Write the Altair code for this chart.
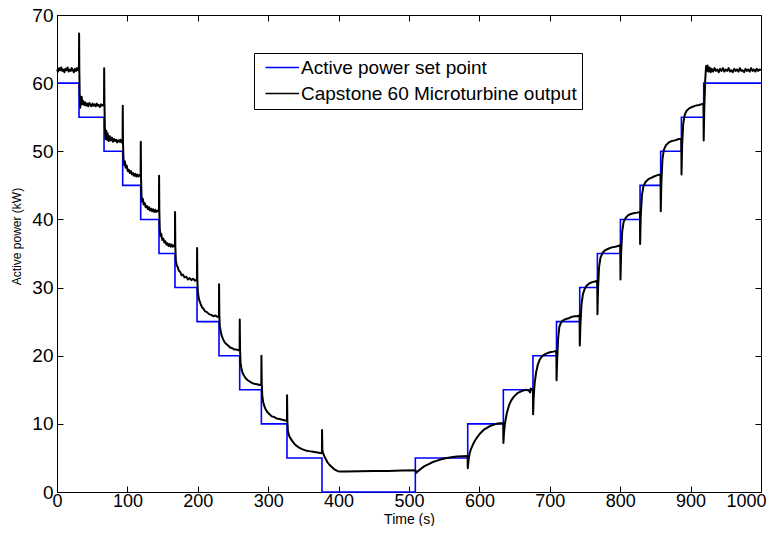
import altair as alt
import pandas as pd

SP_NAME = "Active power set point"
MT_NAME = "Capstone 60 Microturbine output"

# Set point (step changes)
sp_time = [0, 31.3, 66.8, 93.3, 118.9, 144.9, 167.6, 198.9, 230.1, 259.5, 290.3, 326.7,
           376.4, 509.0, 583.4, 634.0, 676.1, 709.5, 742.5, 767.6, 800.3, 828.2, 857.5,
           886.9, 918.6, 1000]
sp_power = [60, 55, 50, 45, 40, 35, 30, 25, 20, 15, 10, 5,
            0, 5, 10, 15, 20, 25, 30, 35, 40, 45, 50,
            55, 60, 60]

mt_time = (
    [0, 1.5, 3, 4.5, 6, 7.5, 9, 10.5, 12, 13.5, 15, 16.5, 18, 19.5, 21, 22.5, 24, 25.5, 27, 28.5, 30, 31.0]
    + [31.2, 31.4, 31.7, 32.2, 33, 34, 35, 36, 37, 38.5, 40, 41.5, 43, 44.5, 46, 47.5, 49, 50.5, 52, 53.5, 55, 56.5, 58, 59.5, 61, 62.5, 64, 65.5, 66.8]
    + [67.0, 67.4, 68, 69, 70, 71, 72, 73.5, 75, 76.5, 78, 79.5, 81, 82.5, 84, 85.5, 87, 88.5, 90, 91.5, 93.2]
    + [93.4, 93.8, 94.5, 95.5, 96.5, 97.5, 99, 100.5, 102, 103.5, 105, 106.5, 108, 109.5, 111, 112.5, 114, 115.5, 117, 118.8]
    + [119.0, 119.4, 120, 121, 122, 123, 124.5, 126, 127.5, 129, 130.5, 132, 133.5, 135, 136.5, 138, 139.5, 141, 142.5, 144.8]
    + [145.0, 145.4, 146, 147, 148, 149.5, 151, 152.5, 154, 155.5, 157, 158.5, 160, 161.5, 163, 164.5, 166, 167.5]
    + [167.7, 168.1, 168.8, 170, 171.5, 173, 175, 177, 179, 181, 183.5, 186, 188.5, 191, 193.5, 196, 198.8]
    + [199.0, 199.4, 200, 201, 202.5, 204, 206, 208, 210.5, 213, 216, 219, 222, 225, 228, 230.0]
    + [230.2, 230.6, 231.3, 232.5, 234, 236, 238, 240.5, 243, 246, 249, 252, 255, 258, 259.4]
    + [259.6, 260, 260.7, 261.8, 263.5, 265.5, 268, 271, 274, 277, 280, 284, 288, 290.2]
    + [290.4, 290.8, 291.5, 292.8, 294.5, 296.5, 299, 302, 305, 308.5, 312, 316, 320, 324, 326.6]
    + [326.8, 327.2, 328, 329.5, 331.5, 334, 337, 340, 344, 348, 353, 358, 364, 370, 376.3]
    + [376.5, 376.9, 377.8, 379.5, 381.5, 384, 387, 390, 393, 396, 399, 402, 410, 430, 450, 470, 490, 509]
    + [510.5, 513, 517, 522, 528, 534, 540, 546, 552, 560, 568, 576, 583.2]
    + [583.5, 584.5, 586, 588, 591, 594, 598, 602, 607, 612, 618, 624, 630, 633.8]
    + [634.1, 635, 636.5, 639, 642, 645, 649, 654, 660, 666, 670, 672, 673, 675, 676.0]
    + [676.3, 677.2, 678.5, 680.5, 683, 686, 690, 695, 700, 705, 709.3]
    + [709.6, 710.5, 711.8, 713.5, 716, 719, 723, 727, 731, 735, 739, 742.3]
    + [742.6, 743.5, 745, 747, 749.5, 752.5, 756, 760, 764, 767.4]
    + [767.7, 768.6, 770, 772, 775, 779, 783, 788, 793, 797, 800.1]
    + [800.4, 801.3, 802.8, 804.8, 807.5, 811, 815, 819, 824, 828.0]
    + [828.3, 829.2, 830.8, 833, 836, 840, 844, 848, 853, 857.3]
    + [857.6, 858.5, 860, 862, 865, 869, 873, 878, 883, 886.8]
    + [887.1, 888, 889.5, 891.5, 894, 898, 902, 907, 912, 918.3]
    + [918.6, 919.5, 920.8, 922, 923, 924, 925.5, 927, 928.5, 930, 932, 934, 936, 938, 940, 942, 944, 946, 948, 950,
       952, 954, 956, 958, 960, 962, 964, 966, 968, 970, 972, 974, 976, 978, 980, 982, 984, 986, 988, 990, 992, 994,
       996, 998, 1000]
)
mt_power = (
    [62.0, 61.7, 62.2, 61.9, 62.3, 61.8, 62.0, 61.6, 62.1, 61.9, 62.3, 61.7, 62.0, 61.8, 62.2, 61.9, 61.6, 62.1, 61.8, 62.2, 61.9, 62.0]
    + [63.0, 67.3, 62.0, 58.5, 56.4, 57.2, 58.0, 56.9, 57.4, 56.8, 57.2, 56.7, 57.0, 56.6, 57.1, 56.8, 56.6, 57.0, 56.7, 56.9, 56.6, 57.0, 56.7, 56.8, 56.5, 56.9, 56.7, 56.8, 56.9]
    + [62.2, 57.0, 53.5, 51.8, 53.0, 51.7, 52.6, 51.5, 52.2, 51.6, 52.0, 51.4, 51.8, 51.5, 51.7, 51.3, 51.6, 51.4, 51.7, 51.3, 51.5]
    + [56.7, 51.0, 48.8, 48.0, 48.5, 47.6, 47.9, 47.1, 47.3, 46.8, 47.1, 46.6, 46.8, 46.4, 46.7, 46.3, 46.6, 46.3, 46.5, 46.3]
    + [51.4, 46.0, 43.5, 42.6, 43.0, 42.2, 42.4, 41.8, 42.0, 41.5, 41.8, 41.3, 41.6, 41.2, 41.5, 41.1, 41.4, 41.1, 41.3, 41.2]
    + [46.4, 41.0, 38.5, 37.6, 37.9, 37.0, 37.2, 36.6, 36.8, 36.3, 36.5, 36.1, 36.4, 36.0, 36.3, 36.0, 36.2, 36.0]
    + [41.1, 36.0, 34.0, 33.3, 33.0, 32.5, 32.3, 31.8, 31.9, 31.5, 31.6, 31.2, 31.4, 31.1, 31.3, 31.0, 31.2]
    + [35.8, 31.0, 29.5, 28.6, 28.0, 27.6, 27.1, 26.9, 26.5, 26.4, 26.1, 26.0, 25.8, 25.9, 25.7, 25.8]
    + [30.5, 26.0, 24.3, 23.6, 22.9, 22.4, 22.0, 21.7, 21.5, 21.2, 21.1, 20.9, 20.9, 20.8, 20.8]
    + [25.3, 21.0, 19.0, 18.2, 17.5, 17.1, 16.7, 16.4, 16.2, 16.0, 15.9, 15.8, 15.7, 15.8]
    + [20.0, 16.0, 14.2, 13.2, 12.6, 12.1, 11.7, 11.4, 11.1, 11.0, 10.8, 10.7, 10.6, 10.5, 10.5]
    + [14.2, 10.5, 9.0, 8.3, 7.9, 7.5, 7.1, 6.8, 6.5, 6.3, 6.1, 6.0, 5.9, 5.8, 5.7]
    + [9.1, 6.2, 5.8, 5.3, 4.9, 4.4, 4.0, 3.7, 3.4, 3.2, 3.05, 3.0, 3.0, 3.05, 3.1, 3.1, 3.15, 3.2]
    + [2.8, 3.1, 3.4, 3.8, 4.1, 4.4, 4.6, 4.8, 4.95, 5.1, 5.2, 5.25, 5.3]
    + [3.5, 4.6, 5.6, 6.3, 7.0, 7.6, 8.2, 8.7, 9.2, 9.5, 9.8, 10.0, 10.1, 10.1]
    + [7.2, 8.8, 10.2, 11.6, 12.7, 13.4, 14.0, 14.5, 14.8, 15.0, 14.9, 14.6, 15.2, 15.0, 15.1]
    + [11.4, 14.0, 16.0, 17.5, 18.7, 19.5, 20.0, 20.3, 20.5, 20.6, 20.7]
    + [16.4, 19.5, 22.5, 24.2, 24.9, 25.2, 25.4, 25.5, 25.7, 25.8, 25.8, 25.9]
    + [21.5, 24.5, 27.5, 29.0, 29.8, 30.3, 30.6, 30.8, 30.9, 31.0]
    + [26.1, 30.0, 33.0, 34.4, 35.1, 35.5, 35.7, 35.9, 36.0, 36.1, 36.2]
    + [31.2, 35.0, 38.2, 39.6, 40.2, 40.6, 40.8, 40.9, 41.0, 41.1]
    + [36.4, 40.5, 43.5, 44.9, 45.5, 45.9, 46.1, 46.3, 46.5, 46.6]
    + [41.2, 45.5, 48.8, 50.2, 50.9, 51.3, 51.5, 51.6, 51.8, 51.8]
    + [46.6, 51.0, 54.0, 55.3, 55.9, 56.3, 56.5, 56.7, 56.8, 57.0]
    + [51.6, 56.5, 60.5, 62.5, 61.8, 62.6, 61.7, 62.3, 61.6, 62.1, 61.7, 62.2, 61.8, 62.0, 61.6, 62.1, 61.8, 62.2, 61.7, 62.0,
       61.8, 62.2, 61.7, 61.9, 61.6, 62.1, 61.8, 62.0, 61.7, 62.2, 61.8, 61.9, 61.6, 62.1, 61.8, 62.0, 61.7, 62.2,
       61.8, 62.0, 61.7, 62.1, 61.8, 62.0, 61.9]
)

x_ticks = [0, 100, 200, 300, 400, 500, 600, 700, 800, 900, 1000]
y_ticks = [0, 10, 20, 30, 40, 50, 60, 70]

W, H = 704, 477
FONT = "Liberation Sans"

sp_df = pd.DataFrame({"t": sp_time, "p": sp_power, "series": SP_NAME})
mt_df = pd.DataFrame({"t": mt_time, "p": mt_power, "series": MT_NAME})

xs = alt.Scale(domain=[0, 1000], nice=False, zero=False)
ys = alt.Scale(domain=[0, 70], nice=False)

color = alt.Color(
    "series:N",
    scale=alt.Scale(domain=[SP_NAME, MT_NAME], range=["#0000ff", "#000000"]),
    legend=alt.Legend(
        title=None, orient="none", legendX=197, legendY=38,
        strokeColor="black", fillColor="white", padding=5, cornerRadius=0,
        labelFont=FONT, labelFontSize=19, labelColor="black", labelOffset=23,
        labelLimit=0,
        symbolType="M-0.5,0H5.1", symbolSize=144, symbolStrokeWidth=1.6,
        symbolFillColor="transparent", rowPadding=6,
    ),
)

common_ax = dict(grid=False, domain=False, labelFont=FONT, titleFont=FONT)

sp_layer = alt.Chart(sp_df).mark_line(interpolate="step-after", strokeWidth=1.6).encode(
    x=alt.X("t:Q", scale=xs, axis=alt.Axis(
        orient="bottom", ticks=False, values=x_ticks, title="Time (s)", format="d",
        labelFontSize=18, labelColor="black", labelPadding=0, labelFlush=True,
        labelFlushOffset=5, titleFontSize=14, titleFontWeight="normal",
        titleColor="black", titleY=31, titleBaseline="alphabetic", **common_ax)),
    y=alt.Y("p:Q", scale=ys, axis=alt.Axis(
        orient="left", ticks=False, values=y_ticks, title="Active power (kW)",
        labelFontSize=19, labelColor="black", labelPadding=4, labelFlush=False,
        titleFontSize=12, titleFontWeight="normal", titleColor="black",
        titlePadding=8, titleY=221, **common_ax)),
    color=color,
)

mt_layer = alt.Chart(mt_df).mark_line(strokeWidth=2.0, strokeJoin="round").encode(
    x=alt.X("t:Q", scale=xs, axis=alt.Axis(
        orient="top", offset=-H, labels=False, title=None, values=x_ticks,
        tickSize=6, tickColor="black", **common_ax)),
    y=alt.Y("p:Q", scale=ys, axis=alt.Axis(
        orient="right", offset=-W, labels=False, title=None, values=y_ticks,
        tickSize=6, tickColor="black", **common_ax)),
    color=color,
)

ghost_layer = alt.Chart(sp_df).mark_line(opacity=0).encode(
    x=alt.X("t:Q", scale=xs, axis=alt.Axis(
        orient="bottom", offset=-H, labels=False, title=None, values=x_ticks,
        tickSize=6, tickColor="black", **common_ax)),
    y=alt.Y("p:Q", scale=ys, axis=alt.Axis(
        orient="left", offset=-W, labels=False, title=None, values=y_ticks,
        tickSize=6, tickColor="black", **common_ax)),
)

chart = alt.layer(sp_layer, mt_layer, ghost_layer).resolve_axis(
    x="independent", y="independent"
).properties(
    width=W, height=H,
    autosize=alt.AutoSizeParams(type="none"),
    padding={"left": 49, "top": 7, "right": 12, "bottom": 34},
    background="white",
).configure_view(stroke="black", strokeWidth=1)

chart.save("out.html", embed_options={"renderer": "svg", "actions": False})
